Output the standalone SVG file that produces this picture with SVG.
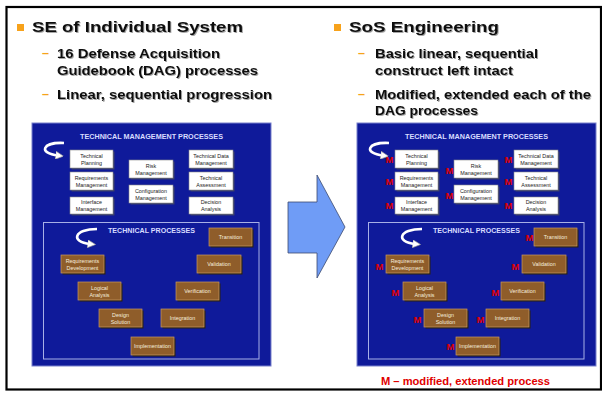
<svg xmlns="http://www.w3.org/2000/svg" width="602" height="393" viewBox="0 0 602 393">
<defs>
<style>
.hd{font-family:"Liberation Sans",Arial,sans-serif;font-weight:bold;fill:#111;filter:url(#sh)}
.t1{font-size:15.5px}
.t2{font-size:12.5px}
.dash{font-family:"Liberation Sans",Arial,sans-serif;font-weight:bold;font-size:12.5px;fill:#f5a31a}
.bul{fill:#f7a21b}
.panel{fill:#0f1a9a;stroke:#7880cc;stroke-width:1}
.inner{fill:none;stroke:#a8b0e6;stroke-width:1}
.ptitle{font-family:"Liberation Sans",Arial,sans-serif;font-weight:bold;font-size:7px;fill:#d8dcff}
.wsh{fill:#3a3f6a}
.wbox{fill:#ffffff;stroke:#8a8a8a;stroke-width:0.6}
.wt{font-family:"Liberation Sans",Arial,sans-serif;font-size:5.4px;fill:#222;text-anchor:middle}
.bsh{fill:#2c2010}
.bbox{fill:#8f5d2a;stroke:#c89a62;stroke-width:0.7}
.bt{font-family:"Liberation Sans",Arial,sans-serif;font-size:5.4px;fill:#f6eedf;text-anchor:middle}
.m{font-family:"Liberation Sans",Arial,sans-serif;font-weight:bold;font-size:9.5px;fill:#e00000;text-anchor:middle}
.loop{fill:none;stroke:#ffffff;stroke-width:2.6;stroke-linecap:butt}
.foot{font-family:"Liberation Sans",Arial,sans-serif;font-weight:bold;font-size:10.5px;fill:#e00000}
</style>
<filter id="sh" x="-5%" y="-20%" width="110%" height="150%">
<feDropShadow dx="1" dy="1" stdDeviation="0.5" flood-color="#000" flood-opacity="0.35"/>
</filter>
<marker id="ah" markerUnits="userSpaceOnUse" markerWidth="8" markerHeight="8" viewBox="0 0 10 10" refX="3" refY="5" orient="auto">
<path d="M0,0 L10,5 L0,10 z" fill="#ffffff" stroke="#9a9a9a" stroke-width="0.8"/>
</marker>
</defs>

<rect id="frame" x="6.5" y="7" width="594.5" height="382.5" fill="#ffffff" stroke="#000" stroke-width="2.2"/>

<!-- Left header -->
<g id="left-header">
<rect class="bul" x="17" y="24" width="7" height="7"/>
<text class="hd t1" x="32" y="32" textLength="211" lengthAdjust="spacingAndGlyphs">SE of Individual System</text>
<text class="dash" x="42" y="57">–</text>
<text class="hd t2" x="57" y="57.5" textLength="163" lengthAdjust="spacingAndGlyphs">16 Defense Acquisition</text>
<text class="hd t2" x="57" y="74.5" textLength="201" lengthAdjust="spacingAndGlyphs">Guidebook (DAG) processes</text>
<text class="dash" x="42" y="98">–</text>
<text class="hd t2" x="57" y="98.5" textLength="215" lengthAdjust="spacingAndGlyphs">Linear, sequential progression</text>
</g>

<!-- Right header -->
<g id="right-header">
<rect class="bul" x="334" y="24" width="7" height="7"/>
<text class="hd t1" x="349" y="32" textLength="150" lengthAdjust="spacingAndGlyphs">SoS Engineering</text>
<text class="dash" x="358" y="57">–</text>
<text class="hd t2" x="375" y="57.5" textLength="163" lengthAdjust="spacingAndGlyphs">Basic linear, sequential</text>
<text class="hd t2" x="375" y="74.5" textLength="138" lengthAdjust="spacingAndGlyphs">construct left intact</text>
<text class="dash" x="358" y="98">–</text>
<text class="hd t2" x="375" y="98.5" textLength="216" lengthAdjust="spacingAndGlyphs">Modified, extended each of the</text>
<text class="hd t2" x="375" y="114.5" textLength="103" lengthAdjust="spacingAndGlyphs">DAG processes</text>
</g>

<!-- LEFT PANEL -->
<g id="left-panel">
<rect class="panel" x="32" y="123" width="239" height="243"/>
<text class="ptitle" x="80" y="138.5" textLength="143" lengthAdjust="spacingAndGlyphs">TECHNICAL MANAGEMENT PROCESSES</text>
<rect class="inner" x="43.5" y="222.5" width="215.5" height="136.5"/>
<text class="ptitle" x="108" y="233" textLength="87" lengthAdjust="spacingAndGlyphs">TECHNICAL PROCESSES</text>
</g>

<g id="L-technical-planning"><rect class="wsh" x="71.5" y="151.5" width="43" height="18"/><rect class="wbox" x="70" y="150" width="43" height="18"/><text class="wt" x="91.5" y="157.5">Technical</text><text class="wt" x="91.5" y="164.5">Planning</text></g>
<g id="L-requirements-management"><rect class="wsh" x="71.5" y="173.5" width="43" height="18"/><rect class="wbox" x="70" y="172" width="43" height="18"/><text class="wt" x="91.5" y="179.5">Requirements</text><text class="wt" x="91.5" y="186.5">Management</text></g>
<g id="L-interface-management"><rect class="wsh" x="71.5" y="198.5" width="43" height="17"/><rect class="wbox" x="70" y="197" width="43" height="17"/><text class="wt" x="91.5" y="204">Interface</text><text class="wt" x="91.5" y="211">Management</text></g>
<g id="L-risk-management"><rect class="wsh" x="130.5" y="161.5" width="44" height="18"/><rect class="wbox" x="129" y="160" width="44" height="18"/><text class="wt" x="151" y="167.5">Risk</text><text class="wt" x="151" y="174.5">Management</text></g>
<g id="L-configuration-management"><rect class="wsh" x="130.5" y="186.5" width="44" height="18"/><rect class="wbox" x="129" y="185" width="44" height="18"/><text class="wt" x="151" y="192.5">Configuration</text><text class="wt" x="151" y="199.5">Management</text></g>
<g id="L-technical-data-management"><rect class="wsh" x="190.5" y="151.5" width="44" height="18"/><rect class="wbox" x="189" y="150" width="44" height="18"/><text class="wt" x="211" y="157.5">Technical Data</text><text class="wt" x="211" y="164.5">Management</text></g>
<g id="L-technical-assessment"><rect class="wsh" x="190.5" y="173.5" width="44" height="18"/><rect class="wbox" x="189" y="172" width="44" height="18"/><text class="wt" x="211" y="179.5">Technical</text><text class="wt" x="211" y="186.5">Assessment</text></g>
<g id="L-decision-analysis"><rect class="wsh" x="190.5" y="198.5" width="44" height="17"/><rect class="wbox" x="189" y="197" width="44" height="17"/><text class="wt" x="211" y="204">Decision</text><text class="wt" x="211" y="211">Analysis</text></g>

<g id="L-transition"><rect class="bsh" x="210.5" y="229.5" width="43" height="18"/><rect class="bbox" x="209" y="228" width="43" height="18"/><text class="bt" x="230.5" y="238.5">Transition</text></g>
<g id="L-requirements-development"><rect class="bsh" x="62.5" y="256.5" width="43" height="18"/><rect class="bbox" x="61" y="255" width="43" height="18"/><text class="bt" x="82.5" y="262.5">Requirements</text><text class="bt" x="82.5" y="269.5">Development</text></g>
<g id="L-validation"><rect class="bsh" x="198.5" y="256.5" width="44" height="18"/><rect class="bbox" x="197" y="255" width="44" height="18"/><text class="bt" x="219" y="265.5">Validation</text></g>
<g id="L-logical-analysis"><rect class="bsh" x="79.5" y="283.5" width="43" height="18"/><rect class="bbox" x="78" y="282" width="43" height="18"/><text class="bt" x="99.5" y="289.5">Logical</text><text class="bt" x="99.5" y="296.5">Analysis</text></g>
<g id="L-verification"><rect class="bsh" x="177.5" y="283.5" width="43" height="18"/><rect class="bbox" x="176" y="282" width="43" height="18"/><text class="bt" x="197.5" y="292.5">Verification</text></g>
<g id="L-design-solution"><rect class="bsh" x="100.5" y="310.5" width="43" height="18"/><rect class="bbox" x="99" y="309" width="43" height="18"/><text class="bt" x="120.5" y="316.5">Design</text><text class="bt" x="120.5" y="323.5">Solution</text></g>
<g id="L-integration"><rect class="bsh" x="162.5" y="310.5" width="43" height="18"/><rect class="bbox" x="161" y="309" width="43" height="18"/><text class="bt" x="182.5" y="319.5">Integration</text></g>
<g id="L-implementation"><rect class="bsh" x="132.5" y="338.5" width="43" height="18"/><rect class="bbox" x="131" y="337" width="43" height="18"/><text class="bt" x="152.5" y="347.5">Implementation</text></g>

<!-- RIGHT PANEL -->
<g id="right-panel">
<rect class="panel" x="357" y="123" width="239" height="243"/>
<text class="ptitle" x="405" y="138.5" textLength="143" lengthAdjust="spacingAndGlyphs">TECHNICAL MANAGEMENT PROCESSES</text>
<rect class="inner" x="368.5" y="222.5" width="215.5" height="136.5"/>
<text class="ptitle" x="433" y="233" textLength="87" lengthAdjust="spacingAndGlyphs">TECHNICAL PROCESSES</text>
</g>

<g id="R-technical-planning"><rect class="wsh" x="396.5" y="151.5" width="43" height="18"/><rect class="wbox" x="395" y="150" width="43" height="18"/><text class="wt" x="416.5" y="157.5">Technical</text><text class="wt" x="416.5" y="164.5">Planning</text><text class="m" x="389.5" y="162.5">M</text></g>
<g id="R-requirements-management"><rect class="wsh" x="396.5" y="173.5" width="43" height="18"/><rect class="wbox" x="395" y="172" width="43" height="18"/><text class="wt" x="416.5" y="179.5">Requirements</text><text class="wt" x="416.5" y="186.5">Management</text><text class="m" x="389.5" y="184.5">M</text></g>
<g id="R-interface-management"><rect class="wsh" x="396.5" y="198.5" width="43" height="17"/><rect class="wbox" x="395" y="197" width="43" height="17"/><text class="wt" x="416.5" y="204">Interface</text><text class="wt" x="416.5" y="211">Management</text><text class="m" x="389.5" y="208.5">M</text></g>
<g id="R-risk-management"><rect class="wsh" x="455.5" y="161.5" width="44" height="18"/><rect class="wbox" x="454" y="160" width="44" height="18"/><text class="wt" x="476" y="167.5">Risk</text><text class="wt" x="476" y="174.5">Management</text><text class="m" x="449.5" y="173.5">M</text></g>
<g id="R-configuration-management"><rect class="wsh" x="455.5" y="186.5" width="44" height="18"/><rect class="wbox" x="454" y="185" width="44" height="18"/><text class="wt" x="476" y="192.5">Configuration</text><text class="wt" x="476" y="199.5">Management</text><text class="m" x="449.5" y="198.5">M</text></g>
<g id="R-technical-data-management"><rect class="wsh" x="515.5" y="151.5" width="44" height="18"/><rect class="wbox" x="514" y="150" width="44" height="18"/><text class="wt" x="536" y="157.5">Technical Data</text><text class="wt" x="536" y="164.5">Management</text><text class="m" x="508.5" y="162.5">M</text></g>
<g id="R-technical-assessment"><rect class="wsh" x="515.5" y="173.5" width="44" height="18"/><rect class="wbox" x="514" y="172" width="44" height="18"/><text class="wt" x="536" y="179.5">Technical</text><text class="wt" x="536" y="186.5">Assessment</text><text class="m" x="508.5" y="184.5">M</text></g>
<g id="R-decision-analysis"><rect class="wsh" x="515.5" y="198.5" width="44" height="17"/><rect class="wbox" x="514" y="197" width="44" height="17"/><text class="wt" x="536" y="204">Decision</text><text class="wt" x="536" y="211">Analysis</text><text class="m" x="508.5" y="208.5">M</text></g>

<g id="R-transition"><rect class="bsh" x="535.5" y="229.5" width="43" height="18"/><rect class="bbox" x="534" y="228" width="43" height="18"/><text class="bt" x="555.5" y="238.5">Transition</text><text class="m" x="529.5" y="240.5">M</text></g>
<g id="R-requirements-development"><rect class="bsh" x="387.5" y="256.5" width="43" height="18"/><rect class="bbox" x="386" y="255" width="43" height="18"/><text class="bt" x="407.5" y="262.5">Requirements</text><text class="bt" x="407.5" y="269.5">Development</text><text class="m" x="379.5" y="269.5">M</text></g>
<g id="R-validation"><rect class="bsh" x="523.5" y="256.5" width="44" height="18"/><rect class="bbox" x="522" y="255" width="44" height="18"/><text class="bt" x="544" y="265.5">Validation</text><text class="m" x="515.5" y="269.5">M</text></g>
<g id="R-logical-analysis"><rect class="bsh" x="404.5" y="283.5" width="43" height="18"/><rect class="bbox" x="403" y="282" width="43" height="18"/><text class="bt" x="424.5" y="289.5">Logical</text><text class="bt" x="424.5" y="296.5">Analysis</text><text class="m" x="395.5" y="295.5">M</text></g>
<g id="R-verification"><rect class="bsh" x="502.5" y="283.5" width="43" height="18"/><rect class="bbox" x="501" y="282" width="43" height="18"/><text class="bt" x="522.5" y="292.5">Verification</text><text class="m" x="495.5" y="295.5">M</text></g>
<g id="R-design-solution"><rect class="bsh" x="425.5" y="310.5" width="43" height="18"/><rect class="bbox" x="424" y="309" width="43" height="18"/><text class="bt" x="445.5" y="316.5">Design</text><text class="bt" x="445.5" y="323.5">Solution</text><text class="m" x="417.5" y="322.5">M</text></g>
<g id="R-integration"><rect class="bsh" x="487.5" y="310.5" width="43" height="18"/><rect class="bbox" x="486" y="309" width="43" height="18"/><text class="bt" x="507.5" y="319.5">Integration</text><text class="m" x="480.5" y="322.5">M</text></g>
<g id="R-implementation"><rect class="bsh" x="457.5" y="338.5" width="43" height="18"/><rect class="bbox" x="456" y="337" width="43" height="18"/><text class="bt" x="477.5" y="347.5">Implementation</text><text class="m" x="450.5" y="349.5">M</text></g>

<g id="legend">
<text class="foot" x="381" y="384.5" textLength="169" lengthAdjust="spacingAndGlyphs">M – modified, extended process</text>
</g>

<!-- Connectors -->
<g id="connectors">
<polygon points="288,202 317,202 317,175 345,227 317,278 317,253 288,253" fill="#6f9cf6" stroke="#3c4a6e" stroke-width="0.8"/>
<path class="loop" d="M 64 143 C 42 142 38 153 58 155.5" marker-end="url(#ah)"/>
<path class="loop" d="M 97 229 C 74 229 70 242 90 244" marker-end="url(#ah)"/>
<path class="loop" d="M 389 143 C 367 142 363 153 383 155.5" marker-end="url(#ah)"/>
<path class="loop" d="M 422 229 C 399 229 395 242 415 244" marker-end="url(#ah)"/>
</g>
</svg>
